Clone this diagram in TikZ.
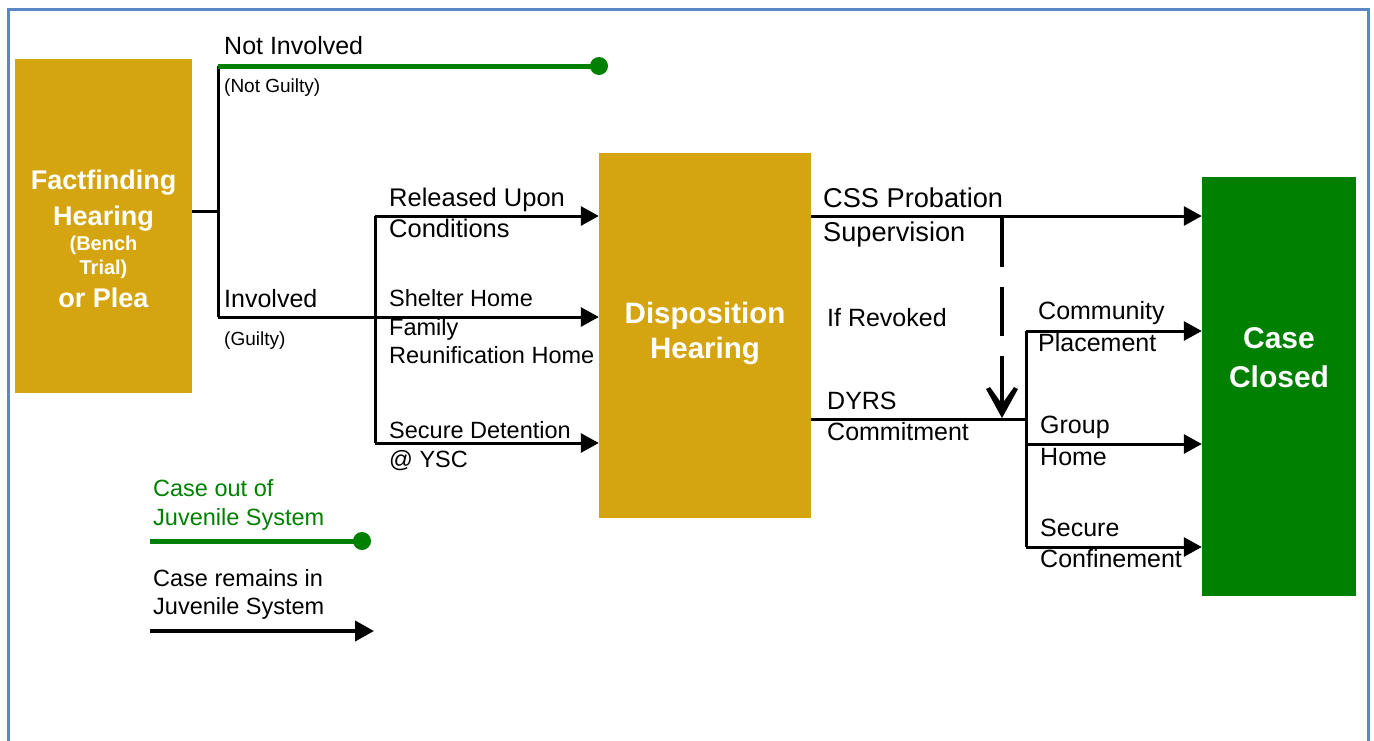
\documentclass[tikz,border=0pt]{standalone}
\usepackage{fontspec}
\setmainfont{Liberation Sans}
\usetikzlibrary{arrows.meta}
\definecolor{gold}{RGB}{212,165,16}
\definecolor{dgreen}{RGB}{0,128,0}
\definecolor{framec}{RGB}{91,135,197}
\begin{document}
\begin{tikzpicture}[x=1pt,y=-1pt,
  boxs/.style={fill=#1, draw=none, inner sep=0pt},
  lbl/.style={anchor=base west, inner sep=0pt, font=\fontsize{25}{25}\selectfont},
  mid/.style={anchor=base west, inner sep=0pt, font=\fontsize{23.5}{23.5}\selectfont},
  small/.style={anchor=base west, inner sep=0pt, font=\fontsize{19}{19}\selectfont},
  big/.style={anchor=base, inner sep=0pt, text=white, font=\fontsize{#1}{#1}\selectfont\bfseries},
  flow/.style={line width=3pt, -{Triangle[length=18pt,width=19pt]}},
  seg/.style={line width=3pt},
  outcase/.style={line width=5pt, draw=dgreen},
  dot/.style={circle, fill=dgreen, inner sep=0pt, minimum size=18pt}
]
\useasboundingbox (0,0) rectangle (1374,740);
\fill[white] (0,0) rectangle (1374,740);
% frame
\draw[framec, line width=3pt] (8,742) -- (8,9) -- (1368,9) -- (1368,742);

% boxes
\node[boxs=gold, minimum width=177pt, minimum height=334pt] (ff) at (103.5,226) {};
\node[boxs=gold, minimum width=212pt, minimum height=365pt] (disp) at (705,335.5) {};
\node[boxs=dgreen, minimum width=154pt, minimum height=419pt] (closed) at (1279,386.5) {};

% box texts
\node[big=27] (ff1) at (103.5,189) {Factfinding};
\node[big=27] (ff2) at (103.5,225) {Hearing};
\node[big=20] (ff3) at (103.5,250) {(Bench};
\node[big=20] (ff4) at (103.5,274) {Trial)};
\node[big=27] (ff5) at (103.5,307) {or Plea};
\node[big=29.5] (dh1) at (705,323) {Disposition};
\node[big=29.5] (dh2) at (705,358) {Hearing};
\node[big=30] (cc1) at (1279,348) {Case};
\node[big=30] (cc2) at (1279,387) {Closed};

% junction coordinates
\coordinate (j0) at (218,211);
\coordinate (ni) at (218,66);
\coordinate (niend) at (599,66);
\coordinate (inv) at (218,317);
\coordinate (b1) at (375,216);
\coordinate (b3) at (375,443);
\coordinate (c1) at (811,216);
\coordinate (d1) at (811,419);
\coordinate (k0) at (1026,419);
\coordinate (k1) at (1026,331);
\coordinate (k2) at (1026,444);
\coordinate (k3) at (1026,547);
\coordinate (rv0) at (1002,218);
\coordinate (rvm) at (1002,404);
\coordinate (rv1) at (1002,418);

% connectors left
\draw[seg] (ff.east |- j0) -- (j0);
\draw[seg] (ni) -- (inv);
\draw[outcase] (ni) -- (niend);
\node[dot] (nidot) at (niend) {};
\draw[flow] (inv) -- (disp.west |- inv);
\draw[seg] (b1) -- (b3);
\draw[flow] (b1) -- (disp.west |- b1);
\draw[flow] (b3) -- (disp.west |- b3);

% connectors right
\draw[flow] (c1) -- (closed.west |- c1);
\draw[seg] (d1) -- (k0);
\draw[seg] (k1) -- (k3);
\draw[flow] (k1) -- (closed.west |- k1);
\draw[flow] (k2) -- (closed.west |- k2);
\draw[flow] (k3) -- (closed.west |- k3);
\draw[line width=4.5pt, dash pattern=on 49pt off 20pt] (rv0) -- (rvm);
\fill (rv1) -- ([shift={(-16,-29)}]rv1) -- ([shift={(-12,-31)}]rv1) -- ([shift={(0,-14)}]rv1)
  -- ([shift={(12,-31)}]rv1) -- ([shift={(16,-29)}]rv1) -- cycle;

% labels
\node[lbl] (t1) at (224,54) {Not Involved};
\node[small] (t2) at (224,92) {(Not Guilty)};
\node[lbl] (t3) at (224,307) {Involved};
\node[small] (t4) at (224,345) {(Guilty)};
\node[mid, font=\fontsize{25.5}{25.5}\selectfont] (t5) at (389,206) {Released Upon};
\node[mid, font=\fontsize{25.5}{25.5}\selectfont] (t6) at (389,237) {Conditions};
\node[mid] (t7) at (389,306) {Shelter Home};
\node[mid] (t8) at (389,335) {Family};
\node[mid] (t9) at (389,363) {Reunification Home};
\node[mid] (t10) at (389,438) {Secure Detention};
\node[mid] (t11) at (389,467) {@ YSC};
\node[lbl, font=\fontsize{27.2}{27.2}\selectfont] (t12) at (823,207) {CSS Probation};
\node[lbl, font=\fontsize{27.2}{27.2}\selectfont] (t13) at (823,241) {Supervision};
\node[lbl] (t14) at (827,326) {If Revoked};
\node[lbl] (t15) at (827,409) {DYRS};
\node[lbl] (t16) at (827,440) {Commitment};
\node[lbl] (t17) at (1038,319) {Community};
\node[lbl] (t18) at (1038,351) {Placement};
\node[lbl] (t19) at (1040,433) {Group};
\node[lbl] (t20) at (1040,465) {Home};
\node[lbl] (t21) at (1040,536) {Secure};
\node[lbl] (t22) at (1040,567) {Confinement};

% legend
\node[mid, text=dgreen] (lg1) at (153,496) {Case out of};
\node[mid, text=dgreen] (lg2) at (153,525) {Juvenile System};
\coordinate (lga) at (150,541);
\coordinate (lgb) at (362,541);
\draw[outcase] (lga) -- (lgb);
\node[dot] (lgdot) at (lgb) {};
\node[mid] (lg3) at (153,586) {Case remains in};
\node[mid] (lg4) at (153,614) {Juvenile System};
\coordinate (lgc) at (150,631);
\coordinate (lgd) at (374,631);
\draw[line width=4pt, -{Triangle[length=19pt,width=20pt]}] (lgc) -- (lgd);
\end{tikzpicture}
\end{document}
